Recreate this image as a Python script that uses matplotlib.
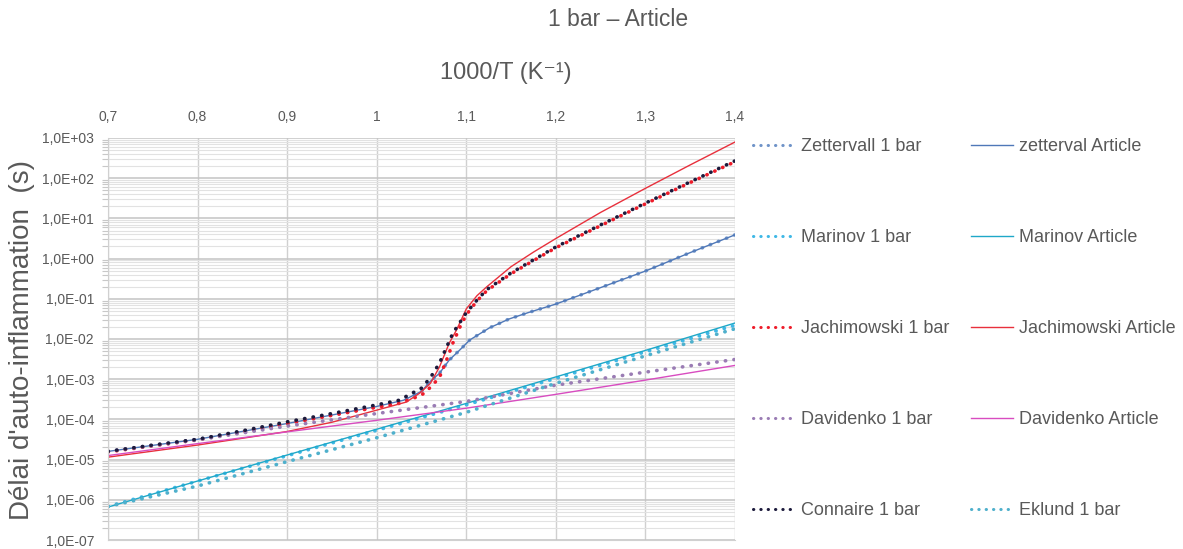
import numpy as np
from matplotlib import pyplot as plt
from matplotlib import ticker

plt.rcParams['font.family'] = ['Liberation Sans', 'DejaVu Sans']

# ---- data (1000/T in K^-1, delay in s) ----
x_conn = [0.70, 0.75, 0.80, 0.85, 0.90, 0.95, 1.00, 1.025, 1.05, 1.06, 1.07, 1.078,
          1.085, 1.093, 1.10, 1.112, 1.123, 1.15, 1.175, 1.20, 1.25, 1.30, 1.35, 1.40]
connaire = [1.6e-5, 2.3e-5, 3.2e-5, 5.2e-5, 8.7e-5, 1.4e-4, 2.3e-4, 3.0e-4, 6.0e-4, 1.1e-3,
            2.5e-3, 6.3e-3, 1.4e-2, 2.6e-2, 4.5e-2, 9.3e-2, 0.17, 0.44, 0.93, 1.95, 6.9, 24, 81, 270]

x_jach = [0.70, 0.75, 0.80, 0.85, 0.90, 0.95, 1.00, 1.025, 1.05, 1.06, 1.07, 1.078,
          1.085, 1.093, 1.10, 1.112, 1.123, 1.15, 1.175, 1.20, 1.25, 1.30, 1.35, 1.40]
jach_1bar = [1.55e-5, 2.2e-5, 3.1e-5, 4.9e-5, 7.9e-5, 1.26e-4, 2.0e-4, 2.5e-4, 4.0e-4, 6.3e-4,
             1.1e-3, 3.0e-3, 7.9e-3, 2.0e-2, 4.0e-2, 8.9e-2, 0.16, 0.42, 0.89, 1.86, 6.6, 23, 78, 257]

x_jach_art = [0.70, 0.80, 0.90, 0.95, 1.00, 1.033, 1.048, 1.06, 1.07, 1.081, 1.089, 1.10,
              1.112, 1.123, 1.15, 1.175, 1.20, 1.25, 1.30, 1.35, 1.40]
jach_art = [1.15e-5, 2.3e-5, 5.0e-5, 8.5e-5, 1.7e-4, 2.7e-4, 4.5e-4, 7.9e-4, 2.0e-3, 7.9e-3,
            1.66e-2, 5.6e-2, 0.12, 0.2, 0.63, 1.45, 3.16, 14.1, 56, 214, 794]

x_zett = [0.70, 0.80, 0.90, 1.00, 1.03, 1.05, 1.06, 1.07, 1.081, 1.093, 1.104, 1.126,
          1.148, 1.17, 1.20, 1.25, 1.30, 1.35, 1.40]
zett_1bar = [1.6e-5, 3.2e-5, 7.9e-5, 2.1e-4, 3.0e-4, 5.0e-4, 8.9e-4, 1.4e-3, 3.0e-3, 5.4e-3,
             9.5e-3, 1.9e-2, 3.16e-2, 4.6e-2, 7.4e-2, 0.19, 0.49, 1.41, 3.9]
zett_art = [1.6e-5, 3.2e-5, 7.9e-5, 2.1e-4, 3.0e-4, 5.0e-4, 8.9e-4, 1.4e-3, 3.0e-3, 5.4e-3,
            9.5e-3, 1.9e-2, 3.16e-2, 4.6e-2, 7.4e-2, 0.19, 0.49, 1.41, 3.9]

x_dav = [0.70, 0.80, 0.90, 1.00, 1.10, 1.20, 1.30, 1.40]
dav_1bar = [1.6e-5, 3.1e-5, 6.8e-5, 1.4e-4, 2.8e-4, 7.1e-4, 1.5e-3, 3.1e-3]
dav_art = [1.26e-5, 2.5e-5, 4.9e-5, 9.5e-5, 1.9e-4, 4.2e-4, 9.5e-4, 2.2e-3]

x_mar = [0.70, 0.90, 1.10, 1.30, 1.40]
mar_art = [6.6e-7, 1.3e-5, 2.5e-4, 5.2e-3, 2.5e-2]
mar_1bar = [6.8e-7, 1.25e-5, 2.3e-4, 4.8e-3, 2.2e-2]

x_ekl = [0.70, 0.80, 0.90, 1.00, 1.10, 1.20, 1.30, 1.40]
eklund = [6.8e-7, 2.2e-6, 8.9e-6, 3.5e-5, 1.5e-4, 7.9e-4, 3.8e-3, 1.8e-2]

x_ticks = [0.7, 0.8, 0.9, 1.0, 1.1, 1.2, 1.3, 1.4]
x_tick_labels = ['0,7', '0,8', '0,9', '1', '1,1', '1,2', '1,3', '1,4']

# ---- styles ----
grey_txt = '#595959'
dot = dict(linestyle=(0, (0.1, 2.3)), dash_capstyle='round', linewidth=2.6)
sol = dict(linestyle='-', linewidth=1.0)

fig = plt.figure(figsize=(11.83, 5.49), dpi=100)
ax = fig.add_axes([108/1183, 1-540/549, (735-108)/1183, (540-138)/549])

series = [
    (x_zett, zett_1bar, '#6f93c8', dot, 'Zettervall 1 bar'),
    (x_zett, zett_art, '#4f78b8', sol, 'zetterval Article'),
    (x_mar, mar_1bar, '#3fb8e6', dot, 'Marinov 1 bar'),
    (x_mar, mar_art, '#1fa8c8', sol, 'Marinov Article'),
    (x_jach, jach_1bar, '#ee1c2a', dot, 'Jachimowski 1 bar'),
    (x_jach_art, jach_art, '#e8303c', sol, 'Jachimowski Article'),
    (x_dav, dav_1bar, '#9a7cb4', dot, 'Davidenko 1 bar'),
    (x_dav, dav_art, '#d84cc0', sol, 'Davidenko Article'),
    (x_conn, connaire, '#1c1a3c', dot, 'Connaire 1 bar'),
    (x_ekl, eklund, '#4fb0cc', dot, 'Eklund 1 bar'),
]
for xs, ys, c, st, lab in series:
    ax.plot(xs, ys, color=c, label=lab, **st)

ax.set_yscale('log')
ax.set_ylim(1e-7, 1e3)
ax.set_xlim(0.7, 1.4)
ax.set_xticks(x_ticks)
ax.set_xticklabels(x_tick_labels)
ax.xaxis.tick_top()
ax.set_yticks([10.0**k for k in range(-7, 4)])
ax.yaxis.set_major_formatter(ticker.FuncFormatter(
    lambda v, p: '1,0E{:+03d}'.format(int(round(np.log10(v))))))
ax.yaxis.set_minor_locator(ticker.LogLocator(base=10, subs=np.arange(2, 10), numticks=20))
ax.yaxis.set_minor_formatter(ticker.NullFormatter())
ax.tick_params(axis='x', which='both', length=0, labelsize=10, labelcolor=grey_txt, pad=10)
ax.tick_params(axis='y', which='major', length=0, labelsize=10, labelcolor=grey_txt, pad=10)
ax.tick_params(axis='y', which='minor', length=4, color='#c8c8c8', width=0.8)

ax.grid(True, which='major', axis='y', color='#c4c4c4', linewidth=1.1)
ax.grid(True, which='major', axis='x', color='#d0d0d0', linewidth=1.0)
ax.grid(True, which='minor', axis='y', color='#e2e2e2', linewidth=0.8)
ax.set_axisbelow(True)
for s in ['top', 'right']:
    ax.spines[s].set_visible(False)
for s in ['left', 'bottom']:
    ax.spines[s].set_color('#d0d0d0')

fig.text(618/1183, 1-20/549, '1 bar – Article', ha='center', va='center',
         fontsize=16.5, color=grey_txt)
fig.text(506/1183, 1-73/549, '1000/T (K⁻¹)', ha='center', va='center',
         fontsize=17, color=grey_txt)
fig.text(22/1183, 1-340/549, "Délai d'auto-inflammation  (s)", rotation=90,
         ha='center', va='center', fontsize=20, color=grey_txt)

# legend: two columns, Excel style
handles, labels = ax.get_legend_handles_labels()
order = [0, 2, 4, 6, 8, 1, 3, 5, 7, 9]
leg = fig.legend([handles[i] for i in order], [labels[i] for i in order],
                 ncol=2, loc='upper left', bbox_to_anchor=(737/1183, 1-122/549),
                 frameon=False, fontsize=13, labelspacing=4.1, handlelength=2.3,
                 handletextpad=0.35, columnspacing=1.2, labelcolor=grey_txt)
for h in leg.legend_handles:
    if h.get_linestyle() != '-':
        h.set_linewidth(2.2)

fig.savefig('out.png', dpi=100, facecolor='w')
